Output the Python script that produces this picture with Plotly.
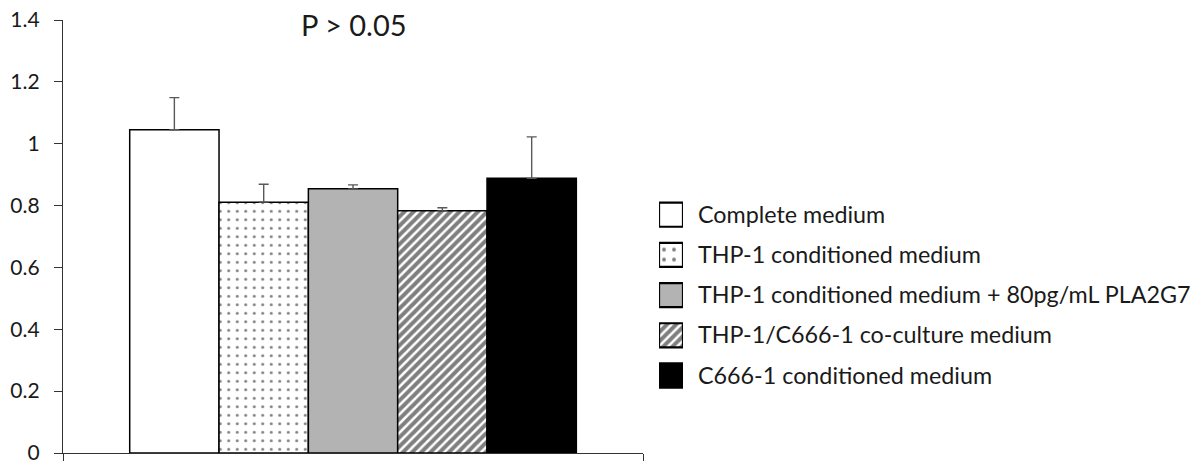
import plotly.graph_objects as go

# ---- data ----
series_names = [
    "Complete medium",
    "THP-1 conditioned medium",
    "THP-1 conditioned medium + 80pg/mL PLA2G7",
    "THP-1/C666-1 co-culture medium",
    "C666-1 conditioned medium",
]
values = [1.045, 0.811, 0.854, 0.783, 0.888]
errors_plus = [0.104, 0.058, 0.013, 0.010, 0.134]
y_tick_vals = [0, 0.2, 0.4, 0.6, 0.8, 1.0, 1.2, 1.4]
y_tick_text = ["0", "0.2", "0.4", "0.6", "0.8", "1", "1.2", "1.4"]
title_text = "P > 0.05"

# ---- styles ----
FONT = "Lato"
bg_colors = ["white", "white", "#b3b3b3", "white", "black"]
patterns = [
    dict(shape=""),
    dict(shape=".", fgcolor="black", bgcolor="white", size=8.5, solidity=0.1),
    dict(shape=""),
    dict(shape="/", fgcolor="black", bgcolor="white", size=6.5, solidity=0.62),
    dict(shape=""),
]

fig = go.Figure()

for name, v, e, c, p in zip(series_names, values, errors_plus, bg_colors, patterns):
    fig.add_trace(go.Bar(
        x=["all"], y=[v], name=name, showlegend=False,
        marker=dict(color=c, line=dict(color="black", width=1.5), pattern=p),
        error_y=dict(type="data", symmetric=False, array=[e], arrayminus=[0],
                     color="#595959", thickness=1.4, width=5),
    ))

# legend drawn as a small horizontal bar chart
for name, c, p in zip(series_names, bg_colors, patterns):
    lp = dict(p)
    if lp.get("shape") == ".":
        lp["size"] = 10
        lp["solidity"] = 0.12
    fig.add_trace(go.Bar(
        x=[1], y=[name], base=0, orientation="h", showlegend=False,
        xaxis="x2", yaxis="y2", width=0.6, offset=-0.3,
        marker=dict(color=c, line=dict(color="black", width=2.2), pattern=lp),
        hoverinfo="skip",
    ))

fig.update_layout(
    width=1198, height=464,
    margin=dict(l=63, r=10, t=20, b=11),
    paper_bgcolor="white", plot_bgcolor="white",
    barmode="group", bargap=0.23, bargroupgap=0,
    font=dict(family=FONT, color="#1a1a1a"),
    xaxis=dict(
        domain=[0, 0.5156], range=[-0.5, 0.5], type="category", automargin=False,
        showline=True, linecolor="#333", linewidth=1.3,
        ticks="outside", tickson="boundaries", ticklen=7, tickcolor="#333", tickwidth=1.3,
        showticklabels=False, showgrid=False, zeroline=False,
    ),
    yaxis=dict(
        range=[0, 1.4], tickvals=y_tick_vals, ticktext=y_tick_text, automargin=False,
        showline=True, linecolor="#333", linewidth=1.3,
        ticks="outside", ticklen=8, tickcolor="#333", tickwidth=1.3,
        tickfont=dict(family=FONT, size=21, color="#1a1a1a"),
        ticklabelstandoff=10, ticklabeloverflow="allow",
        showgrid=False, zeroline=False,
    ),
    xaxis2=dict(
        domain=[0.5298, 0.5511], range=[0, 1], anchor="y2", automargin=False,
        visible=False, fixedrange=True,
    ),
    yaxis2=dict(
        domain=[0.1326, 0.5968], anchor="x2", side="right", automargin=False,
        type="category", categoryorder="array", categoryarray=series_names,
        range=[4.5, -0.5],
        showline=False, showgrid=False, zeroline=False, ticks="",
        tickfont=dict(family=FONT, size=23.3, color="#1a1a1a"),
        ticklabelstandoff=14, ticklabeloverflow="allow",
    ),
    annotations=[dict(
        text=title_text, xref="paper", yref="paper", x=0.2587, y=0.9885,
        xanchor="center", yanchor="middle", showarrow=False,
        font=dict(family=FONT, size=29, color="#1a1a1a"),
    )],
)

# remove the default 8px page margin so the figure fills the window exactly
fig.write_html("out.html", config={"displayModeBar": False},
               post_script="document.body.style.margin='0px';")
